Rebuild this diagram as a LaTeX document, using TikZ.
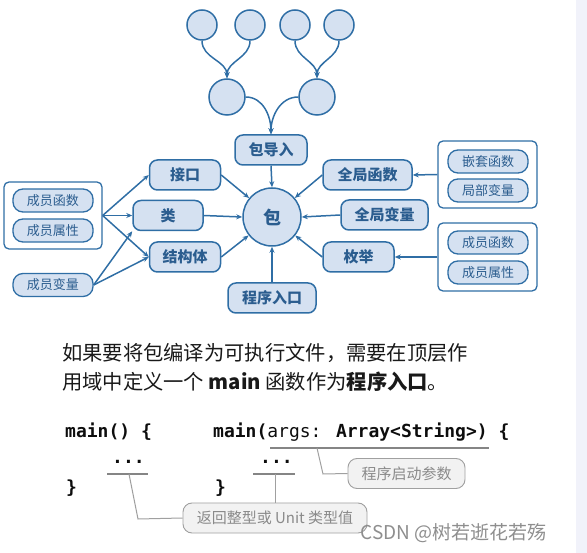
\documentclass[tikz,border=0pt]{standalone}
\usepackage{fontspec}
\setmainfont{Noto Sans CJK SC}
\newfontfamily\codefont{DejaVu Sans Mono}
\usetikzlibrary{arrows.meta}
\definecolor{nodefill}{HTML}{D5E1F1}
\definecolor{nodeline}{HTML}{2F6EA5}
\definecolor{nodetext}{HTML}{2B5D8F}
\definecolor{calloutfill}{HTML}{F2F2F2}
\definecolor{calloutline}{HTML}{A0A0A0}
\definecolor{callouttext}{HTML}{8A8A8A}
\definecolor{underl}{HTML}{858585}
\definecolor{stripcol}{HTML}{F1F2FA}
\definecolor{marktext}{HTML}{8E8E8E}
\tikzset{
  circ/.style={circle, draw=nodeline, fill=nodefill, line width=1.5pt, inner sep=0pt},
  bigbox/.style={rounded corners=8pt, draw=nodeline, fill=nodefill, line width=1.5pt,
    font=\fontsize{15}{15}\selectfont\bfseries, text=nodetext, inner sep=0pt, minimum height=30pt},
  smallbox/.style={rounded corners=10pt, draw=nodeline, fill=nodefill, line width=1.3pt,
    font=\fontsize{13}{13}\selectfont, text=nodetext, inner sep=0pt, minimum width=80pt, minimum height=23pt},
  groupbox/.style={draw=nodeline, fill=white, rounded corners=5pt, line width=1.3pt, inner sep=0pt},
  arr/.style={draw=nodeline, line width=1.5pt, -{Stealth[length=6pt,width=5pt]}},
  callout/.style={rounded corners=9pt, draw=calloutline, fill=calloutfill, line width=0.9pt,
    font=\fontsize{15}{15}\selectfont, text=callouttext, inner sep=0pt, minimum height=30pt},
  leader/.style={draw=calloutline, line width=1pt},
  uline/.style={draw=underl, line width=1.6pt},
  para/.style={anchor=west, inner sep=0pt, font=\fontsize{20.3}{20.3}\selectfont, text=black!90},
  code/.style={anchor=west, inner sep=0pt, font=\codefont\fontsize{18}{18}\selectfont\bfseries, text=black!95}
}
\begin{document}
\begin{tikzpicture}[x=1pt,y=-1pt]
\useasboundingbox (0,0) rectangle (587,553);
\fill[stripcol] (576,0) rectangle (587,553);

% top tree
\node[circ, minimum size=30pt] (a1) at (202,25) {};
\node[circ, minimum size=30pt] (a2) at (250,25) {};
\node[circ, minimum size=30pt] (a3) at (295,25) {};
\node[circ, minimum size=30pt] (a4) at (339,25) {};
\node[circ, minimum size=36pt] (b1) at (227,97) {};
\node[circ, minimum size=36pt] (b2) at (317,97) {};
\node[bigbox, minimum width=72pt] (imp) at (271,150) {包导入};
\node[circ, minimum size=58pt, font=\fontsize{18}{18}\selectfont\bfseries, text=nodetext] (bao) at (272,217) {包};

\draw[arr] (a1.south) to[out=-90,in=90] (b1.north);
\draw[arr] (a2.south) to[out=-90,in=90] (b1.north);
\draw[arr] (a3.south) to[out=-90,in=90] (b2.north);
\draw[arr] (a4.south) to[out=-90,in=90] (b2.north);
\draw[arr] (b1.east) to[out=0,in=90] (imp.north);
\draw[arr] (b2.west) to[out=180,in=90] (imp.north);
\draw[arr] (imp.south) -- (bao.north);

% left side
\node[bigbox, minimum width=71pt] (jk) at (185,175) {接口};
\node[bigbox, minimum width=70pt] (lei) at (168,215.5) {类};
\node[bigbox, minimum width=71pt] (jgt) at (185,257) {结构体};
\node[bigbox, minimum width=88pt] (entry) at (272,298) {程序入口};

\node[groupbox, minimum width=98pt, minimum height=67pt] (lg) at (53,215.5) {};
\node[smallbox] (lf) at (53,200.5) {成员函数};
\node[smallbox] (la) at (53,230.5) {成员属性};
\node[smallbox] (lv) at (53,285) {成员变量};

\draw[arr] (lg.east) -- (jk.west);
\draw[arr] (lg.east) -- (lei.west);
\draw[arr] (lg.east) -- (jgt.west);
\draw[arr] (lv.east) -- (lei.south west);
\draw[arr] (lv.east) -- (jgt.west);

\draw[arr] (jk.east) -- (bao);
\draw[arr] (lei.east) -- (bao.west);
\draw[arr] (jgt.east) -- (bao);
\draw[arr] (entry.north) -- (bao.south);

% right side
\node[bigbox, minimum width=89pt] (qf) at (367.5,175) {全局函数};
\node[bigbox, minimum width=87pt] (qv) at (384.5,215) {全局变量};
\node[bigbox, minimum width=71pt] (mj) at (358.5,257) {枚举};

\node[groupbox, minimum width=99pt, minimum height=67pt] (rg1) at (487.5,174.5) {};
\node[smallbox] (nf) at (488,161.5) {嵌套函数};
\node[smallbox] (lb) at (488,190.5) {局部变量};
\node[groupbox, minimum width=99pt, minimum height=68pt] (rg2) at (487.5,257) {};
\node[smallbox] (rf) at (488,242.5) {成员函数};
\node[smallbox] (ra) at (488,272.5) {成员属性};

\draw[arr] (rg1.west) -- (qf.east);
\draw[arr] (rg2.west) -- (mj.east);
\draw[arr] (qf.west) -- (bao);
\draw[arr] (qv.west) -- (bao.east);
\draw[arr] (mj.west) -- (bao);

% paragraph
\node[para] (p1) at (62,353) {如果要将包编译为可执行文件，需要在顶层作};
\node[para] (p2) at (62,382) {用域中定义一个 \textbf{main} 函数作为\textbf{程序入口}。};

% code
\node[code] (c1) at (65,432) {main() \{};
\node[code] (c2) at (112,462) {...};
\node[code] (c3) at (66,488) {\}};
\node[code] (c4) at (213,432) {main({\mdseries args:} Array<String>) \{};
\node[code] (c5) at (260,462) {...};
\node[code] (c6) at (215,488) {\}};

\coordinate (u1l) at (107,474);
\coordinate (u1r) at (148,474);
\coordinate (u1m) at (129,474);
\coordinate (u2l) at (253,474);
\coordinate (u2r) at (295,474);
\coordinate (u2m) at (275,474);
\coordinate (u3l) at (270,448);
\coordinate (u3r) at (489,448);
\coordinate (u3m) at (317,448);
\draw[uline] (u1l) -- (u1r);
\draw[uline] (u2l) -- (u2r);
\draw[uline] (u3l) -- (u3r);

\node[callout, minimum width=117pt] (k1) at (406.5,473.5) {程序启动参数};
\node[callout, minimum width=184pt] (k2) at (275,518) {返回整型或 Unit 类型值};

\draw[leader] (u3m) -- (323,474) -- (k1.west);
\draw[leader] (u1m) -- (138,519) -- (k2.west);
\draw[leader] (u2m) -- (k2.north);

\node[anchor=east, inner sep=0pt, font=\fontsize{19}{19}\selectfont, text=marktext] (wm) at (547,533) {CSDN @树若逝花若殇};
\end{tikzpicture}
\end{document}
